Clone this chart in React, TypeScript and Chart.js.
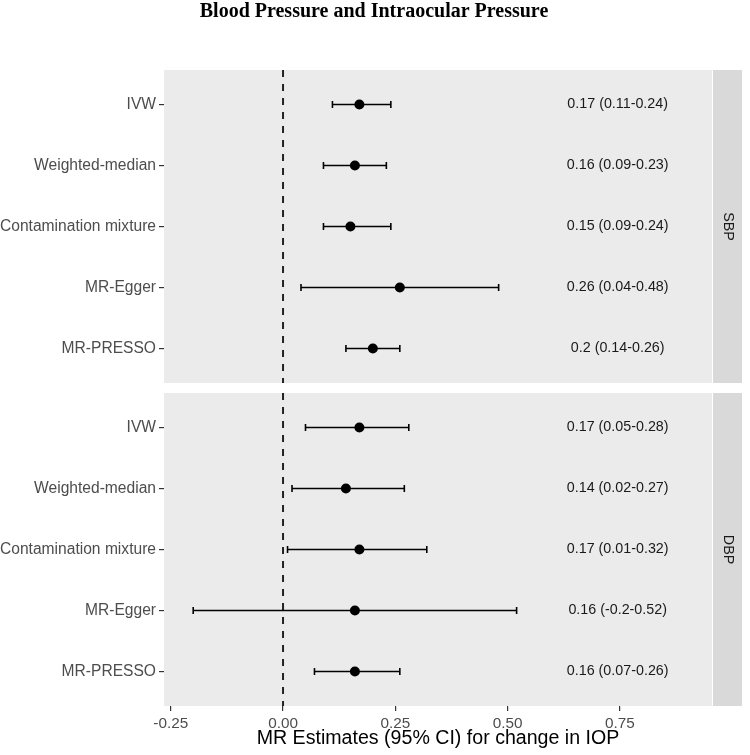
import React, { useEffect, useRef } from "react";
import { Chart, registerables } from "chart.js";

Chart.register(...registerables);

const TITLE = "Blood Pressure and Intraocular Pressure";
const X_TITLE = "MR Estimates (95% CI) for change in IOP";
const methods = ["IVW", "Weighted-median", "Contamination mixture", "MR-Egger", "MR-PRESSO"];
const panels = ["SBP", "DBP"];

const sbpEst = [0.17, 0.16, 0.15, 0.26, 0.2];
const sbpLow = [0.11, 0.09, 0.09, 0.04, 0.14];
const sbpHigh = [0.24, 0.23, 0.24, 0.48, 0.26];
const sbpText = ["0.17 (0.11-0.24)", "0.16 (0.09-0.23)", "0.15 (0.09-0.24)", "0.26 (0.04-0.48)", "0.2 (0.14-0.26)"];

const dbpEst = [0.17, 0.14, 0.17, 0.16, 0.16];
const dbpLow = [0.05, 0.02, 0.01, -0.2, 0.07];
const dbpHigh = [0.28, 0.27, 0.32, 0.52, 0.26];
const dbpText = ["0.17 (0.05-0.28)", "0.14 (0.02-0.27)", "0.17 (0.01-0.32)", "0.16 (-0.2-0.52)", "0.16 (0.07-0.26)"];

const xTicks = [-0.25, 0, 0.25, 0.5, 0.75];
const refValue = 0;

// layout in row units (one row = one category step)
const ROW_PAD = 0.565;
const PANEL_H = (methods.length - 1) + 2 * ROW_PAD;
const GAP = 0.164;
const LABEL_X = 0.745;

const panelData = [
  { name: panels[0], est: sbpEst, low: sbpLow, high: sbpHigh, text: sbpText },
  { name: panels[1], est: dbpEst, low: dbpLow, high: dbpHigh, text: dbpText },
];

const panelTop = (p: number) => p * (PANEL_H + GAP);
const rowPos = (p: number, i: number) => panelTop(p) + ROW_PAD + i;
const Y_MAX = panelTop(panels.length - 1) + PANEL_H;

const SANS = "'Liberation Sans', Arial, Helvetica, sans-serif";

export default function App() {
  const ref = useRef<HTMLCanvasElement | null>(null);

  useEffect(() => {
    if (!ref.current) return;

    const datasets: any[] = [];
    // points
    const pts: any[] = [];
    panelData.forEach((pd, p) => pd.est.forEach((v, i) => pts.push({ x: v, y: rowPos(p, i) })));
    datasets.push({
      data: pts,
      pointRadius: 5,
      pointBackgroundColor: "#000",
      pointBorderWidth: 0,
      order: 0,
    });
    // error bars
    panelData.forEach((pd, p) =>
      pd.est.forEach((_, i) => {
        const y = rowPos(p, i);
        datasets.push({
          data: [
            { x: pd.low[i], y },
            { x: pd.high[i], y },
          ],
          showLine: true,
          borderColor: "#000",
          borderWidth: 1.6,
          pointStyle: "line",
          rotation: 90,
          pointRotation: 90,
          pointRadius: 3.5,
          pointBorderWidth: 1.6,
          pointBorderColor: "#000",
          order: 1,
        });
      })
    );
    // reference dashed line, one per panel
    panelData.forEach((_, p) => {
      datasets.push({
        data: [
          { x: refValue, y: panelTop(p) },
          { x: refValue, y: panelTop(p) + PANEL_H },
        ],
        showLine: true,
        borderColor: "#222",
        borderWidth: 2,
        borderDash: [7, 7],
        pointRadius: 0,
        order: 2,
      });
    });

    const panelPlugin = {
      id: "panels",
      beforeDatasetsDraw(chart: any) {
        const { ctx, chartArea, scales } = chart;
        const ys = scales.y;
        ctx.save();
        panelData.forEach((pd, p) => {
          const t = ys.getPixelForValue(panelTop(p));
          const b = ys.getPixelForValue(panelTop(p) + PANEL_H);
          ctx.fillStyle = "#EBEBEB";
          ctx.fillRect(chartArea.left, t, chartArea.right - chartArea.left, b - t);
        });
        ctx.restore();
      },
      afterDatasetsDraw(chart: any) {
        const { ctx, chartArea, scales } = chart;
        const ys = scales.y;
        const xs = scales.x;
        ctx.save();
        // value labels
        ctx.font = `14.3px ${SANS}`;
        ctx.fillStyle = "#1A1A1A";
        ctx.textAlign = "center";
        ctx.textBaseline = "middle";
        panelData.forEach((pd, p) =>
          pd.text.forEach((s, i) => {
            ctx.fillText(s, xs.getPixelForValue(LABEL_X), ys.getPixelForValue(rowPos(p, i)));
          })
        );
        // strips
        panelData.forEach((pd, p) => {
          const t = ys.getPixelForValue(panelTop(p));
          const b = ys.getPixelForValue(panelTop(p) + PANEL_H);
          const sx = chartArea.right + 1;
          const sw = 29;
          ctx.fillStyle = "#D9D9D9";
          ctx.fillRect(sx, t, sw, b - t);
          ctx.save();
          ctx.translate(sx + sw / 2, (t + b) / 2);
          ctx.rotate(Math.PI / 2);
          ctx.fillStyle = "#1A1A1A";
          ctx.font = `14.3px ${SANS}`;
          ctx.textAlign = "center";
          ctx.textBaseline = "middle";
          ctx.fillText(pd.name, 0, 0);
          ctx.restore();
        });
        ctx.restore();
      },
      afterDraw(chart: any) {
        const { ctx } = chart;
        ctx.save();
        ctx.font = `bold 20px 'Liberation Serif', 'Times New Roman', serif`;
        ctx.fillStyle = "#000";
        ctx.textAlign = "center";
        ctx.textBaseline = "middle";
        ctx.fillText(TITLE, 374, 12);
        ctx.restore();
      },
    };

    const chart = new Chart(ref.current, {
      type: "scatter",
      data: { datasets },
      options: {
        animation: false,
        responsive: false,
        devicePixelRatio: 1,
        layout: { padding: { left: 0, right: 38, top: 70, bottom: 0 } },
        plugins: { legend: { display: false }, tooltip: { enabled: false }, title: { display: false } },
        scales: {
          x: {
            type: "linear",
            min: -0.265,
            max: 0.955,
            afterFit(scale: any) {
              scale.height = 49;
            },
            afterBuildTicks(scale: any) {
              scale.ticks = xTicks.map((v) => ({ value: v }));
            },
            ticks: {
              autoSkip: false,
              maxRotation: 0,
              padding: 4,
              color: "#4D4D4D",
              font: { family: SANS, size: 15.3 },
              callback: (v: any) => Number(v).toFixed(2),
            },
            grid: { drawOnChartArea: false, drawTicks: true, tickLength: 5, tickColor: "#333", lineWidth: 1.2 },
            border: { display: false },
            title: {
              display: true,
              text: X_TITLE,
              color: "#000",
              font: { family: SANS, size: 19.6 },
              padding: { top: 0, bottom: 5 },
            },
          },
          y: {
            type: "linear",
            reverse: true,
            min: 0,
            max: Y_MAX,
            afterFit(scale: any) {
              scale.width = 164;
            },
            afterBuildTicks(scale: any) {
              const t: any[] = [];
              panelData.forEach((_, p) => methods.forEach((_, i) => t.push({ value: rowPos(p, i) })));
              scale.ticks = t;
            },
            ticks: {
              autoSkip: false,
              padding: 3,
              color: "#4D4D4D",
              font: { family: SANS, size: 15.6 },
              callback: (_v: any, idx: number) => methods[idx % methods.length],
            },
            grid: { drawOnChartArea: false, drawTicks: true, tickLength: 5, tickColor: "#333", lineWidth: 1.2 },
            border: { display: false },
          },
        },
      },
      plugins: [panelPlugin],
    } as any);

    return () => chart.destroy();
  }, []);

  return (
    <div style={{ position: "absolute", left: 0, top: 0, width: 750, height: 755, background: "#fff" }}>
      <canvas ref={ref} width={750} height={755} style={{ display: "block" }} />
    </div>
  );
}
